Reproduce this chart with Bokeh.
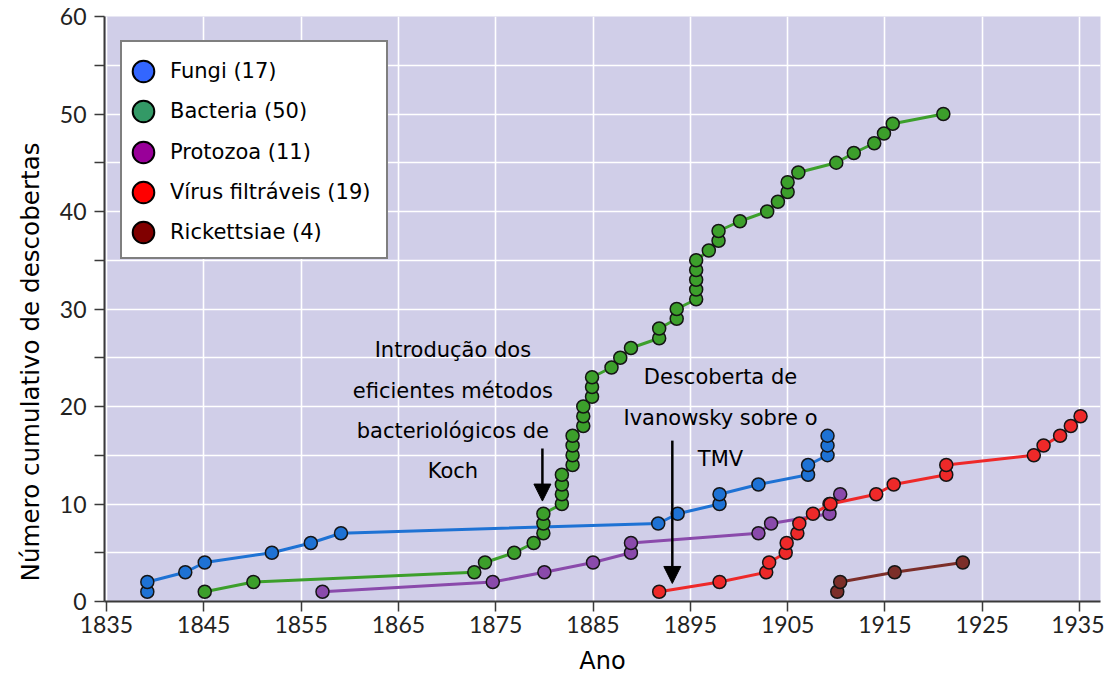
from bokeh.plotting import figure
from bokeh.models import (Range1d, FixedTicker, Legend, LegendItem, Label,
                          Arrow, NormalHead, Title)
from bokeh.embed import file_html
from bokeh.resources import INLINE

# ---------------- data ----------------
fungi_year = [1839.2, 1839.2, 1843.1, 1845.1, 1852.0, 1856.0, 1859.1, 1891.7, 1893.7,
              1898.0, 1898.0, 1902.0, 1907.1, 1907.1, 1909.1, 1909.1, 1909.1]
fungi_count = [1, 2, 3, 4, 5, 6, 7, 8, 9, 10, 11, 12, 13, 14, 15, 16, 17]

bacteria_year = [1845.1, 1850.1, 1872.8, 1873.9, 1876.9, 1878.9, 1879.9, 1879.9, 1879.9,
                 1881.8, 1881.8, 1881.8, 1881.8, 1882.9, 1882.9, 1882.9, 1882.9,
                 1884.0, 1884.0, 1884.0, 1884.9, 1884.9, 1884.9, 1886.9, 1887.8, 1888.9,
                 1891.8, 1891.8, 1893.6, 1893.6, 1895.6, 1895.6, 1895.6, 1895.6, 1895.6,
                 1896.9, 1897.9, 1897.9, 1900.1, 1902.9, 1904.0, 1905.0, 1905.0, 1906.1,
                 1910.0, 1911.8, 1913.9, 1914.9, 1915.8, 1921.0]
bacteria_count = [1, 2, 3, 4, 5, 6, 7, 8, 9, 10, 11, 12, 13, 14, 15, 16, 17, 18, 19, 20,
                  21, 22, 23, 24, 25, 26, 27, 28, 29, 30, 31, 32, 33, 34, 35, 36, 37, 38,
                  39, 40, 41, 42, 43, 44, 45, 46, 47, 48, 49, 50]

protozoa_year = [1857.2, 1874.7, 1880.0, 1885.0, 1888.9, 1888.9, 1902.0, 1903.3,
                 1909.3, 1909.3, 1910.4]
protozoa_count = [1, 2, 3, 4, 5, 6, 7, 8, 9, 10, 11]

virus_year = [1891.8, 1898.0, 1902.8, 1903.1, 1904.8, 1904.9, 1906.0, 1906.2, 1907.6,
              1909.4, 1914.1, 1915.9, 1921.3, 1921.3, 1930.3, 1931.3, 1933.0, 1934.1, 1935.1]
virus_count = [1, 2, 3, 4, 5, 6, 7, 8, 9, 10, 11, 12, 13, 14, 15, 16, 17, 18, 19]

rick_year = [1910.1, 1910.4, 1916.0, 1923.0]
rick_count = [1, 2, 3, 4]

legend_labels = ["Fungi (17)", "Bacteria (50)", "Protozoa (11)",
                 "Vírus filtráveis (19)", "Rickettsiae (4)"]

x_ticks = [1835, 1845, 1855, 1865, 1875, 1885, 1895, 1905, 1915, 1925, 1935]
y_ticks = [0, 10, 20, 30, 40, 50, 60]
y_minor = [5, 15, 25, 35, 45, 55]

x_title = "Ano"
y_title = "Número cumulativo de descobertas"
koch_lines = ["Introdução dos", "eficientes métodos", "bacteriológicos de", "Koch"]
tmv_lines = ["Descoberta de", "Ivanowsky sobre o", "TMV"]

# ---------------- styles ----------------
series_colors = ["#1e72d4", "#3c9f2b", "#8a4aab", "#ee2929", "#7c2e29"]
legend_colors = ["#3366ff", "#339966", "#990099", "#ff0000", "#800000"]
BG = "#d0cee8"
TXT_FONT = "DejaVu Sans"
TICK_FONT = "Lato"

FRAME_TOP = 16
FRAME_H = 585
FRAME_LEFT = 104
FRAME_BOTTOM = FRAME_TOP + FRAME_H
p = figure(width=1104, height=682, output_backend="svg", toolbar_location=None,
           x_range=Range1d(1834.8, 1937.15), y_range=Range1d(0, 60),
           min_border_left=FRAME_LEFT, min_border_right=4, min_border_top=FRAME_TOP,
           min_border_bottom=682 - FRAME_BOTTOM)
p.background_fill_color = BG
p.border_fill_color = "white"
p.outline_line_color = None

# grids
p.xgrid.ticker = FixedTicker(ticks=x_ticks)
p.ygrid.ticker = FixedTicker(ticks=y_ticks, minor_ticks=y_minor)
for g in (p.xgrid, p.ygrid):
    g.grid_line_color = "white"
    g.grid_line_width = 1.6
p.ygrid.minor_grid_line_color = "white"
p.ygrid.minor_grid_line_width = 1.6

# axes
p.xaxis.ticker = FixedTicker(ticks=x_ticks)
p.yaxis.ticker = FixedTicker(ticks=y_ticks, minor_ticks=y_minor)
for ax in (p.xaxis, p.yaxis):
    ax.axis_line_color = "#3a3a3a"
    ax.axis_line_width = 2
    ax.major_tick_line_color = "#3a3a3a"
    ax.major_tick_line_width = 1.5
    ax.major_tick_out = 10
    ax.major_tick_in = 0
    ax.minor_tick_line_color = "#3a3a3a"
    ax.minor_tick_line_width = 1.5
    ax.minor_tick_out = 10
    ax.minor_tick_in = 0
    ax.major_label_text_font = TICK_FONT
    ax.major_label_text_font_size = "23px"
    ax.major_label_text_color = "#222222"
p.xaxis.major_label_standoff = 4
p.yaxis.major_label_standoff = 8
p.xaxis.axis_label = x_title
p.xaxis.axis_label_text_font = TXT_FONT
p.xaxis.axis_label_text_font_size = "24px"
p.xaxis.axis_label_text_font_style = "normal"
p.xaxis.axis_label_text_color = "black"
p.xaxis.axis_label_standoff = 11

ytitle = Title(text=y_title, align="left", offset=20,
               text_font=TXT_FONT, text_font_size="24.6px", text_font_style="normal",
               text_color="black", standoff=24)
p.add_layout(ytitle, "left")

# series
series = [(fungi_year, fungi_count), (bacteria_year, bacteria_count),
          (protozoa_year, protozoa_count), (virus_year, virus_count),
          (rick_year, rick_count)]
for (xs, ys), c in zip(series, series_colors):
    p.line(xs, ys, line_color=c, line_width=3)
    p.scatter(xs, ys, size=13, fill_color=c, line_color="#151515", line_width=1.5)

NAN = float("nan")

# legend box (frame-relative screen position)
box_r = p.scatter(x=[NAN], y=[NAN], fill_alpha=0, line_alpha=0)
box = Legend(items=[LegendItem(label=" ", renderers=[box_r])], location=(16, 342),
             glyph_width=1, glyph_height=1, padding=0, label_standoff=0,
             label_width=263, label_height=215,
             border_line_color="black", border_line_width=2,
             background_fill_color="white", background_fill_alpha=1.0)
p.add_layout(box)

# legend rows (own swatch colours, as in the original)
row_centers = [71, 111, 151.5, 192, 232]
GLY = 54
for lab, c, rc in zip(legend_labels, legend_colors, row_centers):
    r = p.scatter(x=[NAN], y=[NAN], fill_color=c, line_color="black", line_width=2)
    lg = Legend(items=[LegendItem(label=lab, renderers=[r])],
                location=(143 - FRAME_LEFT - GLY // 2,
                          int(FRAME_BOTTOM - rc - GLY / 2)),
                glyph_width=GLY, glyph_height=GLY, padding=0, label_standoff=0,
                label_text_font=TXT_FONT, label_text_font_size="21px",
                label_text_color="black",
                border_line_color=None, background_fill_alpha=0.0)
    p.add_layout(lg)

# annotations
for txt, yb in zip(koch_lines, [25.75, 21.6, 17.5, 13.35]):
    p.add_layout(Label(x=1870.6, y=yb, text=txt, text_align="center",
                       text_baseline="alphabetic", text_font=TXT_FONT,
                       text_font_size="21px", text_color="black"))
for txt, yb in zip(tmv_lines, [23.0, 18.85, 14.6]):
    p.add_layout(Label(x=1898.1, y=yb, text=txt, text_align="center",
                       text_baseline="alphabetic", text_font=TXT_FONT,
                       text_font_size="21px", text_color="black"))

p.add_layout(Arrow(end=NormalHead(size=17, fill_color="black", line_color="black"),
                   x_start=1879.8, y_start=15.7, x_end=1879.8, y_end=10.3,
                   line_width=2.5, line_color="black"))
p.add_layout(Arrow(end=NormalHead(size=17, fill_color="black", line_color="black"),
                   x_start=1893.15, y_start=16.5, x_end=1893.15, y_end=1.85,
                   line_width=2.5, line_color="black"))

open("out.html", "w").write(file_html(p, INLINE))
